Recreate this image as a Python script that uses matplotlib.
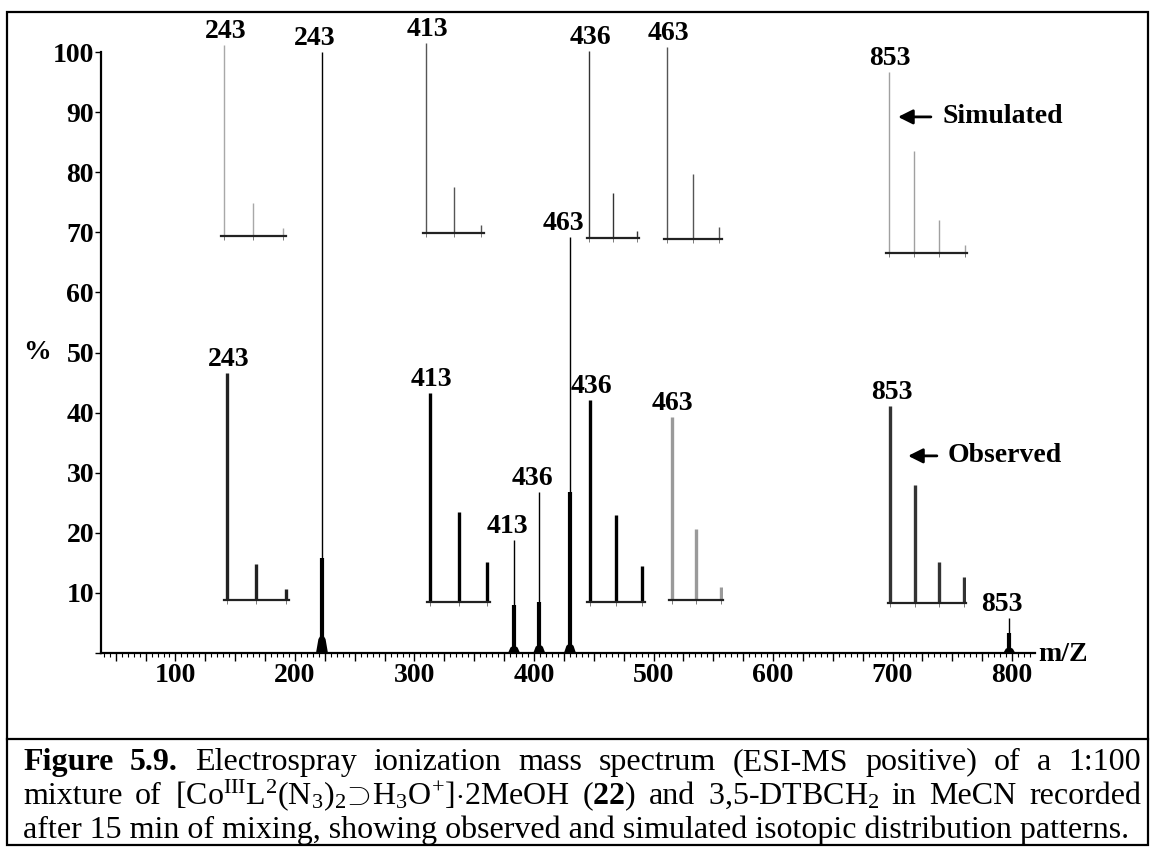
import matplotlib.pyplot as plt
from matplotlib.ticker import MultipleLocator, FuncFormatter
from matplotlib.patches import Rectangle
from matplotlib.lines import Line2D

plt.rcParams['font.family'] = ['Liberation Serif', 'DejaVu Serif']
plt.rcParams['font.weight'] = 'bold'
plt.rcParams['mathtext.fontset'] = 'custom'
plt.rcParams['mathtext.rm'] = 'Liberation Serif:regular'
plt.rcParams['mathtext.it'] = 'Liberation Serif:italic:regular'
plt.rcParams['mathtext.bf'] = 'Liberation Serif:bold'

W, H = 1152, 847

# main ESI-MS trace (axis units, % intensity)
peak_pos = [222.6, 383.3, 404.4, 430.1, 797.7]
peak_lbl = ['243', '413', '436', '463', '853']
peak_top = [100, 18.8, 26.8, 69.2, 5.8]
peak_body = [15.8, 8.0, 8.5, 26.8, 3.3]
peak_base = [3.3, 1.3, 1.5, 1.7, 1.0]

# isotopic patterns (relative intensity)
iso_m0 = [243, 413, 436, 463, 853]
sim_int = [[100, 17, 4], [100, 24, 4], [100, 24, 4], [100, 34, 6], [100, 56, 18, 4]]
obs_int = [[100, 16, 5], [100, 43, 19], [100, 43, 18], [100, 39, 7], [100, 60, 21, 13]]

# where the small pattern boxes sit on the main axes (x0, y0, w, h)
sim_box = [(138.1, 69.4, 54.4, 31.8), (307.1, 69.9, 51.1, 31.6), (444.4, 69.05, 43.6, 31.1),
           (508.8, 68.9, 48.5, 31.9), (694.6, 66.6, 67.8, 30.1)]
obs_box = [(140.6, 8.8, 54.4, 37.8), (310.5, 8.5, 52.7, 34.8), (444.4, 8.5, 48.5, 33.6),
           (513.0, 8.8, 45.2, 30.4), (696.2, 8.3, 65.3, 32.8)]
sim_col = ['#a8a8a8', '#555555', '#333333', '#555555', '#a0a0a0']
obs_col = ['#222222', '#000000', '#000000', '#9a9a9a', '#333333']

fig = plt.figure(figsize=(W / 100, H / 100), dpi=100)
ax = fig.add_axes([101 / W, 194 / H, 934 / W, 601 / H])
ax.set_xlim(37.7, 819.2)
ax.set_ylim(0, 100)
for s in ['top', 'right']:
    ax.spines[s].set_visible(False)
for s in ['left', 'bottom']:
    ax.spines[s].set_linewidth(1.6)

ax.set_yticks(range(0, 101, 10))
ax.set_yticklabels([''] + [str(v) for v in range(10, 101, 10)])
ax.xaxis.set_major_locator(MultipleLocator(25))
ax.xaxis.set_minor_locator(MultipleLocator(5))
ax.xaxis.set_major_formatter(FuncFormatter(lambda v, p: f'{v:.0f}' if v % 100 == 0 else ''))
ax.tick_params(axis='y', length=4, width=1, labelsize=20, pad=1)
ax.tick_params(axis='x', which='major', length=6, width=1, labelsize=20, pad=1)
ax.tick_params(axis='x', which='minor', length=3, width=0.8)

# main peaks
ax.vlines(peak_pos, 0, peak_top, color='k', lw=1.0)
ax.vlines(peak_pos, 0, peak_body, color='k', lw=3.0)
for p, b in zip(peak_pos, peak_base):
    ax.fill([p - 5, p - 3, p, p + 3, p + 5], [0, b * 0.7, b, b * 0.7, 0], color='k', lw=0)
for p, t, l in zip(peak_pos, peak_top, peak_lbl):
    ax.annotate(l, (p, t), xytext=(-5, 5), textcoords='offset points', ha='center',
                va='baseline', fontsize=20)


def pattern(box, m0, inten, color, lw, label):
    mz = [m0 + i for i in range(len(inten))]
    ia = ax.inset_axes(box, transform=ax.transData)
    ia.set_xlim(mz[0] - 0.1, mz[-1] + 0.1)
    ia.set_ylim(0, 100)
    ia.patch.set_visible(False)
    for s in ['left', 'right', 'top']:
        ia.spines[s].set_visible(False)
    ia.spines['bottom'].set_linewidth(1.6)
    ia.spines['bottom'].set_color('#222222')
    ia.set_yticks([])
    ia.set_xticks(mz)
    ia.tick_params(axis='x', length=3, width=0.6, color='#666666', labelbottom=False)
    ia.vlines(mz, 0, inten, color=color, lw=lw)
    ia.annotate(label, (mz[0], inten[0]), xytext=(1, 5), textcoords='offset points',
                ha='center', va='baseline', fontsize=20, annotation_clip=False)


for i in range(5):
    pattern(sim_box[i], iso_m0[i], sim_int[i], sim_col[i], 1.0, peak_lbl[i])
    pattern(obs_box[i], iso_m0[i], obs_int[i], obs_col[i], 2.4, peak_lbl[i])

arrow = dict(arrowstyle='-|>', lw=2, color='k', mutation_scale=22, shrinkA=6, shrinkB=0)
ax.annotate('Simulated', xy=(704.6, 89.2), xytext=(741.4, 89.2), va='center', ha='left',
            fontsize=20, arrowprops=arrow)
ax.annotate('Observed', xy=(713.0, 32.8), xytext=(746.4, 32.8), va='center', ha='left',
            fontsize=20, arrowprops=arrow)

ax.annotate('%', (0, 50), xycoords=('axes fraction', 'data'), xytext=(-36, 0),
            textcoords='offset points', ha='right', va='center', fontsize=20)
ax.annotate('m/Z', (1, 0), xycoords='axes fraction', xytext=(2, -1),
            textcoords='offset points', ha='left', va='center', fontsize=20)

# frame and caption box
fig.add_artist(Rectangle((7 / W, 2 / H), 1141 / W, 833 / H, transform=fig.transFigure,
                         fill=False, lw=1.6, ec='k'))
fig.add_artist(Line2D([7 / W, 1148 / W], [1 - 739 / H, 1 - 739 / H], transform=fig.transFigure,
                      lw=1.6, color='k'))

cap1 = [('Figure', 'bold'), ('5.9.', 'bold'), ('Electrospray', 'normal'), ('ionization', 'normal'),
        ('mass', 'normal'), ('spectrum', 'normal'), ('(ESI-MS', 'normal'), ('positive)', 'normal'),
        ('of', 'normal'), ('a', 'normal'), ('1:100', 'normal')]
cap2 = [('mixture', 'normal'), ('of', 'normal'),
        (r'[Co$^{\mathrm{III}}$L$^{2}$(N$_{3}$)$_{2}\!\supset\!$H$_{3}$O$^{+}$]$\cdot$2MeOH', 'normal'),
        (r'($\mathbf{22}$)', 'normal'), ('and', 'normal'), ('3,5-DTBCH$_{2}$', 'normal'),
        ('in', 'normal'), ('MeCN', 'normal'), ('recorded', 'normal')]
cap3 = 'after 15 min of mixing, showing observed and simulated isotopic distribution patterns.'

renderer = fig.canvas.get_renderer()


def justify(words, base_px, x0, x1, size):
    ts = [fig.text(0, 1 - base_px / H, w, fontsize=size, fontweight=wt, ha='left', va='baseline')
          for w, wt in words]
    widths = [t.get_window_extent(renderer).width for t in ts]
    gap = (x1 - x0 - sum(widths)) / (len(ts) - 1)
    x = x0
    for t, wd in zip(ts, widths):
        t.set_x(x / W)
        x += wd + gap


justify(cap1, 770, 23, 1141, 23)
justify(cap2, 804, 23, 1141, 23)
fig.text(23 / W, 1 - 838 / H, cap3, fontsize=23, fontweight='normal', ha='left', va='baseline')

fig.savefig('out.png', dpi=100)
